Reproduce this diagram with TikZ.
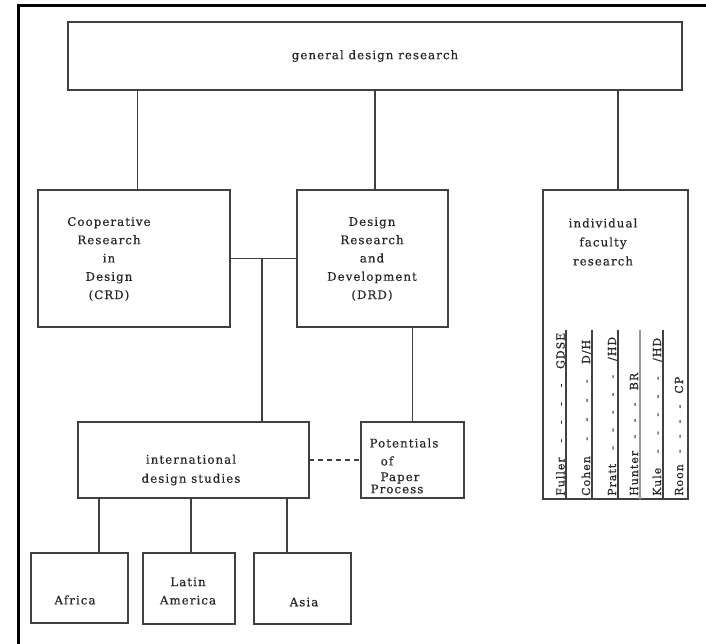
\documentclass[tikz,border=0pt]{standalone}
\usepackage{fontspec}
\setmainfont{DejaVu Serif}[LetterSpace=9,FakeBold=0.4]
\usetikzlibrary{calc}
\begin{document}
\begin{tikzpicture}[x=1pt,y=-1pt,
  box/.style={draw=black!75, line width=1.4pt, inner sep=0pt, outer sep=0pt},
  conn/.style={draw=black!75, line width=1.4pt},
  txt/.style={inner sep=0pt, align=center, text=black!85, font=\fontsize{11.8}{18.3}\selectfont},
  vtxt/.style={inner sep=0pt, rotate=90, anchor=base west, text=black!85, font=\fontsize{11}{12}\selectfont}]
\fill[white] (0,0) rectangle (706,644);
\useasboundingbox (0,0) rectangle (706,644);
\draw[line width=3pt] (18,650) -- (18,5.5) -- (712,5.5);

% boxes
\node[box, minimum width=614pt, minimum height=68pt] (gdr) at (375,56) {};
\node[txt] (gdrt) at (375,56) {general design research};

\node[box, minimum width=192pt, minimum height=137pt] (crd) at (134,258.5) {};
\node[txt] (crdt) at (109,259) {Cooperative\\Research\\in\\Design\\(CRD)};

\node[box, minimum width=151pt, minimum height=137pt] (drd) at (372.5,258.5) {};
\node[txt] (drdt) at (372,259) {Design\\Research\\and\\Development\\(DRD)};

\node[box, minimum width=145pt, minimum height=309pt] (fac) at (615.5,344.5) {};
\node[txt, font=\fontsize{11.8}{19}\selectfont] (fact) at (603,242) {individual\\faculty\\research};

\node[box, minimum width=231pt, minimum height=76pt] (ids) at (193.5,460) {};
\node[txt, font=\fontsize{11.8}{19}\selectfont] (idst) at (191,470) {international\\design studies};

\node[box, minimum width=103pt, minimum height=76pt] (pot) at (412.5,460) {};
\node[txt] (pota) at (404,443) {Potentials};
\node[txt] (potb) at (387,461) {of};
\node[txt] (potc) at (400,478) {Paper};
\node[txt] (potd) at (397,489) {Process};

\node[box, minimum width=97pt, minimum height=70pt] (afr) at (79.5,588) {};
\node[txt] (afrt) at (75,600) {Africa};
\node[box, minimum width=92pt, minimum height=71pt] (lat) at (189,588.5) {};
\node[txt] (latt) at (188,591) {Latin\\America};
\node[box, minimum width=97pt, minimum height=71pt] (asi) at (302.5,588.5) {};
\node[txt] (asit) at (304,602) {Asia};

% connectors
\coordinate (c1) at ([xshift=3.5pt]crd.north);
\draw[conn] (c1) -- (c1 |- gdr.south);
\coordinate (c2) at ([xshift=2.5pt]drd.north);
\draw[conn] (c2) -- (c2 |- gdr.south);
\coordinate (c3) at ([xshift=2.5pt]fac.north);
\draw[conn] (c3) -- (c3 |- gdr.south);

\draw[conn] (crd.east) -- (drd.west);
\coordinate (j) at ($(crd.east)!0.48!(drd.west)$);
\draw[conn] (j) -- (j |- ids.north);
\draw[conn] (pot.north) -- (pot.north |- drd.south);
\draw[conn, dash pattern=on 5pt off 4pt] (ids.east) -- (pot.west);

\coordinate (b1) at ([xshift=-94.5pt]ids.south);
\draw[conn] (b1) -- (b1 |- afr.north);
\coordinate (b2) at ([xshift=-2.5pt]ids.south);
\draw[conn] (b2) -- (b2 |- lat.north);
\coordinate (b3) at ([xshift=93.5pt]ids.south);
\draw[conn] (b3) -- (b3 |- asi.north);

% faculty list
\foreach \x/\c in {566/black!75, 592/black!75, 618/black!75, 640/black!40, 663/black!75}{
  \coordinate (v) at (\x,330);
  \draw[line width=1.2pt, draw=\c] (v) -- (v |- fac.south);
}
\node[vtxt] (n1) at (564.5,496) {\makebox[163pt][s]{Fuller - - - - GDSE}};
\node[vtxt] (n2) at (590,496) {\makebox[156pt][s]{Cohen - - - - D/H}};
\node[vtxt] (n3) at (616,496) {\makebox[159pt][s]{Pratt - - - - - /HD}};
\node[vtxt] (n4) at (638,496) {\makebox[123pt][s]{Hunter - - - BR}};
\node[vtxt] (n5) at (661,496) {\makebox[158pt][s]{Kule - - - - - /HD}};
\node[vtxt] (n6) at (683,496) {\makebox[119pt][s]{Roon - - - - CP}};
\end{tikzpicture}
\end{document}
